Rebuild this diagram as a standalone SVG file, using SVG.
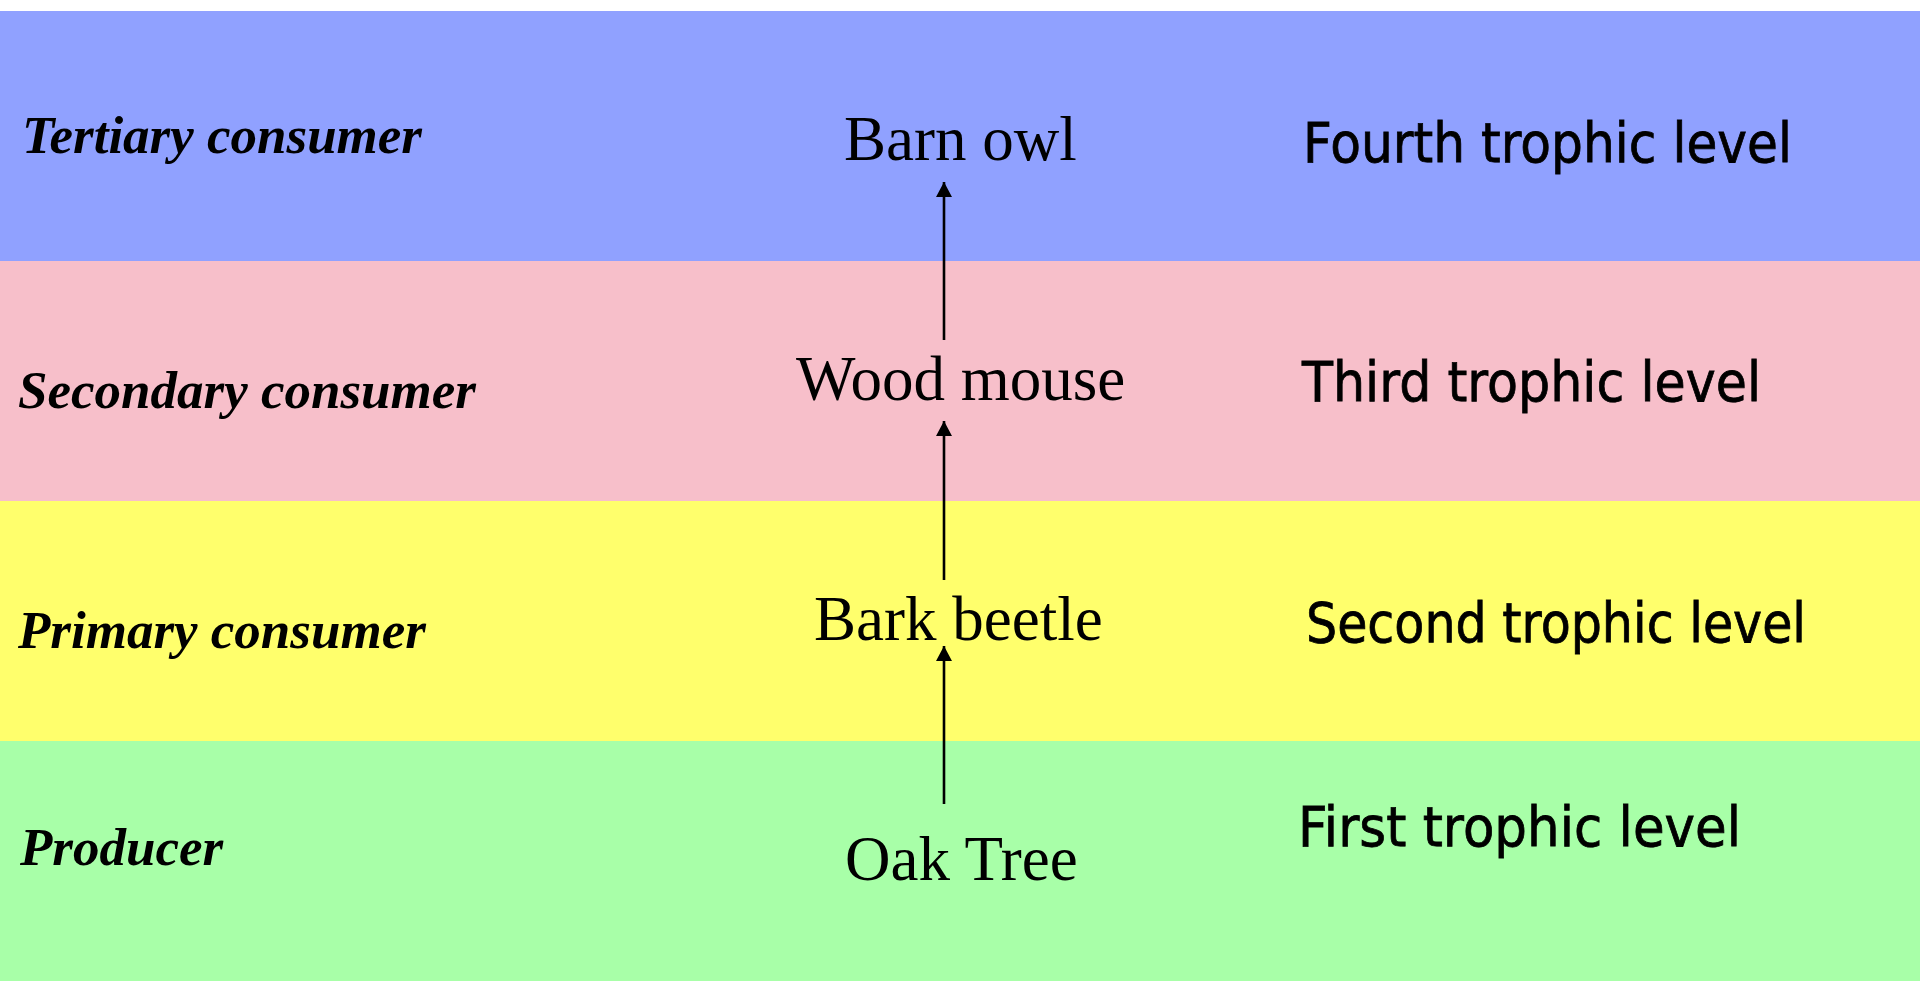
<svg xmlns="http://www.w3.org/2000/svg" width="1920" height="981" viewBox="0 0 1920 981">
<style>
.role{font-family:"Liberation Serif","Times New Roman",serif;font-weight:bold;font-style:italic;font-size:53px;fill:#000}
.sp{font-family:"Liberation Serif","Times New Roman",serif;font-size:63px;fill:#000}
.lvl{font-family:"Comic Sans MS","DejaVu Sans","Noto Sans",sans-serif;font-size:56px;fill:#000;stroke:#000;stroke-width:0.8}
.edge{stroke:#000;stroke-width:2.6;fill:none;marker-end:url(#ah)}
</style>
<defs>
<marker id="ah" markerUnits="userSpaceOnUse" markerWidth="16" markerHeight="16" viewBox="0 0 16 16" refX="15" refY="8" orient="auto">
<path d="M0,0 L15,8 L0,16 Z" fill="#000"/>
</marker>
</defs>
<rect x="0" y="0" width="1920" height="981" fill="#fff"/>
<g id="bands">
<rect x="0" y="11" width="1920" height="250" fill="#90A1FF"/>
<rect x="0" y="261" width="1920" height="240" fill="#F7BFCA"/>
<rect x="0" y="501" width="1920" height="240" fill="#FFFF6C"/>
<rect x="0" y="741" width="1920" height="240" fill="#A8FFA8"/>
</g>
<g id="connectors">
<line class="edge" x1="944" y1="340" x2="944" y2="182"/>
<line class="edge" x1="944" y1="580" x2="944" y2="421"/>
<line class="edge" x1="944" y1="804" x2="944" y2="646"/>
</g>
<g id="node-barn-owl"><text class="sp" x="844" y="160">Barn owl</text></g>
<g id="node-wood-mouse"><text class="sp" x="796" y="400">Wood mouse</text></g>
<g id="node-bark-beetle"><text class="sp" x="814" y="640">Bark beetle</text></g>
<g id="node-oak-tree"><text class="sp" x="845" y="880">Oak Tree</text></g>
<g id="roles">
<text class="role" x="22" y="153">Tertiary consumer</text>
<text class="role" x="18" y="408">Secondary consumer</text>
<text class="role" x="18" y="648">Primary consumer</text>
<text class="role" x="20" y="865">Producer</text>
</g>
<g id="levels">
<text class="lvl" x="1303" y="162" textLength="489" lengthAdjust="spacingAndGlyphs">Fourth trophic level</text>
<text class="lvl" x="1302" y="401" textLength="459" lengthAdjust="spacingAndGlyphs">Third trophic level</text>
<text class="lvl" x="1306" y="642" textLength="500" lengthAdjust="spacingAndGlyphs">Second trophic level</text>
<text class="lvl" x="1298" y="846" textLength="443" lengthAdjust="spacingAndGlyphs">First trophic level</text>
</g>
</svg>
